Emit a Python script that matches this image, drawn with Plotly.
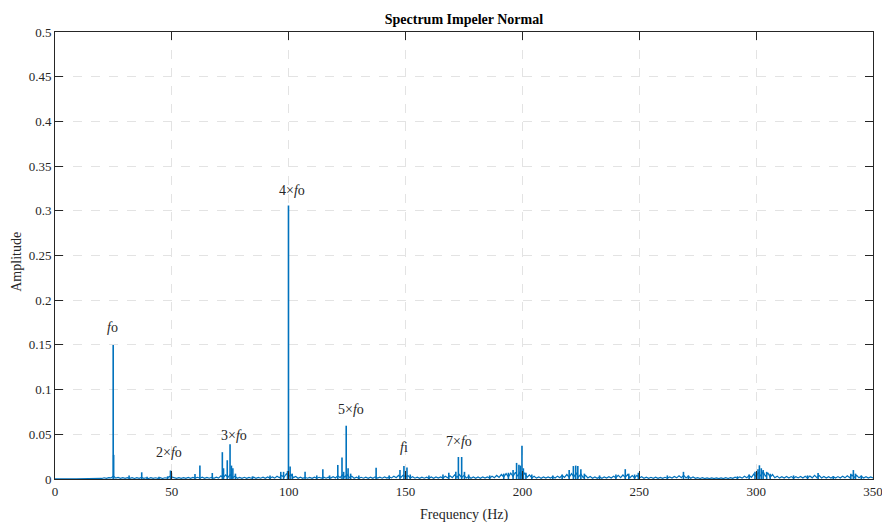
import plotly.graph_objects as go

# Broadband noise floor of the spectrum, one value per Hz from 0 to 350 Hz
floor_hz = list(range(0, 351))
floor_amp = [
    0.0003, 0.0002, 0.0002, 0.0003, 0.0002, 0.0002, 0.0003, 0.0002, 0.0002, 0.0003,
    0.0003, 0.0004, 0.0003, 0.0005, 0.0004, 0.0006, 0.0005, 0.0007, 0.0006, 0.0008,
    0.0006, 0.0014, 0.0007, 0.0016, 0.0012, 0.0032, 0.0010, 0.0018, 0.0008, 0.0016,
    0.0007, 0.0015, 0.0008, 0.0016, 0.0006, 0.0015, 0.0008, 0.0017, 0.0007, 0.0014,
    0.0006, 0.0015, 0.0007, 0.0014, 0.0008, 0.0016, 0.0006, 0.0014, 0.0009, 0.0030,
    0.0020, 0.0016, 0.0007, 0.0015, 0.0008, 0.0016, 0.0007, 0.0017, 0.0008, 0.0018,
    0.0010, 0.0019, 0.0009, 0.0020, 0.0008, 0.0018, 0.0009, 0.0019, 0.0008, 0.0020,
    0.0010, 0.0035, 0.0015, 0.0045, 0.0018, 0.0050, 0.0015, 0.0030, 0.0009, 0.0018,
    0.0008, 0.0019, 0.0007, 0.0018, 0.0009, 0.0020, 0.0008, 0.0018, 0.0009, 0.0021,
    0.0008, 0.0022, 0.0009, 0.0024, 0.0010, 0.0030, 0.0015, 0.0040, 0.0020, 0.0060,
    0.0030, 0.0050, 0.0015, 0.0028, 0.0009, 0.0020, 0.0008, 0.0019, 0.0009, 0.0018,
    0.0008, 0.0020, 0.0009, 0.0019, 0.0010, 0.0021, 0.0009, 0.0020, 0.0010, 0.0026,
    0.0012, 0.0035, 0.0015, 0.0045, 0.0020, 0.0050, 0.0015, 0.0030, 0.0009, 0.0020,
    0.0008, 0.0019, 0.0009, 0.0020, 0.0008, 0.0021, 0.0009, 0.0024, 0.0010, 0.0020,
    0.0009, 0.0022, 0.0010, 0.0024, 0.0012, 0.0030, 0.0015, 0.0040, 0.0018, 0.0045,
    0.0020, 0.0038, 0.0012, 0.0025, 0.0009, 0.0020, 0.0008, 0.0021, 0.0009, 0.0020,
    0.0008, 0.0022, 0.0009, 0.0023, 0.0010, 0.0024, 0.0011, 0.0030, 0.0014, 0.0035,
    0.0015, 0.0045, 0.0018, 0.0050, 0.0016, 0.0040, 0.0012, 0.0028, 0.0009, 0.0022,
    0.0008, 0.0023, 0.0009, 0.0022, 0.0010, 0.0024, 0.0011, 0.0030, 0.0014, 0.0040,
    0.0018, 0.0050, 0.0022, 0.0060, 0.0024, 0.0065, 0.0028, 0.0075, 0.0030, 0.0080,
    0.0030, 0.0065, 0.0020, 0.0045, 0.0012, 0.0030, 0.0010, 0.0024, 0.0009, 0.0022,
    0.0010, 0.0023, 0.0011, 0.0026, 0.0012, 0.0032, 0.0014, 0.0040, 0.0018, 0.0050,
    0.0020, 0.0060, 0.0024, 0.0065, 0.0022, 0.0055, 0.0016, 0.0040, 0.0011, 0.0028,
    0.0009, 0.0022, 0.0008, 0.0023, 0.0009, 0.0022, 0.0010, 0.0026, 0.0012, 0.0030,
    0.0014, 0.0040, 0.0016, 0.0045, 0.0018, 0.0050, 0.0014, 0.0038, 0.0012, 0.0040,
    0.0012, 0.0025, 0.0008, 0.0020, 0.0007, 0.0019, 0.0008, 0.0020, 0.0007, 0.0018,
    0.0008, 0.0019, 0.0009, 0.0022, 0.0010, 0.0028, 0.0013, 0.0035, 0.0014, 0.0040,
    0.0012, 0.0030, 0.0009, 0.0022, 0.0007, 0.0016, 0.0006, 0.0014, 0.0005, 0.0013,
    0.0005, 0.0012, 0.0005, 0.0013, 0.0004, 0.0012, 0.0005, 0.0014, 0.0006, 0.0016,
    0.0007, 0.0020, 0.0009, 0.0024, 0.0010, 0.0030, 0.0013, 0.0040, 0.0018, 0.0055,
    0.0025, 0.0075, 0.0030, 0.0085, 0.0028, 0.0070, 0.0020, 0.0050, 0.0014, 0.0032,
    0.0010, 0.0026, 0.0011, 0.0028, 0.0010, 0.0027, 0.0011, 0.0026, 0.0012, 0.0028,
    0.0011, 0.0030, 0.0012, 0.0034, 0.0013, 0.0040, 0.0014, 0.0038, 0.0011, 0.0028,
    0.0010, 0.0026, 0.0011, 0.0025, 0.0010, 0.0027, 0.0011, 0.0030, 0.0013, 0.0036,
    0.0015, 0.0045, 0.0018, 0.0040, 0.0013, 0.0030, 0.0011, 0.0026, 0.0010, 0.0024,
    0.0011,
]

# Discrete spectral lines (Hz, amplitude)
peak_hz = [
    24.9, 25.1, 31.7, 37.1, 39.4, 44.5, 48.2, 49.4, 49.8, 59.9,
    62.0, 67.3, 71.6, 72.1, 73.7, 74.9, 75.5, 76.1, 77.2, 84.5,
    92.0, 96.6, 97.8, 99.5, 99.9, 100.6, 101.5, 107.0, 112.0, 114.6,
    117.5, 121.0, 122.8, 123.5, 124.6, 125.4, 126.5, 130.0, 137.4, 143.0,
    147.6, 149.3, 150.6, 152.0, 160.0, 166.0, 168.5, 171.5, 172.6, 174.0,
    175.2, 177.0, 186.0, 192.0, 194.0, 196.0, 197.5, 198.5, 199.1, 199.8,
    200.4, 201.5, 204.0, 213.0, 217.0, 220.0, 221.8, 222.8, 223.7, 225.0,
    226.5, 233.0, 240.0, 244.0, 245.5, 248.0, 249.6, 262.0, 268.9, 271.0,
    292.0, 297.0, 299.5, 300.8, 301.4, 302.2, 303.0, 304.5, 306.0, 316.0,
    322.0, 326.5, 333.0, 340.5, 341.6, 342.5, 345.0,
]
peak_amp = [
    0.150, 0.027, 0.004, 0.0075, 0.0025, 0.0025, 0.003, 0.0095, 0.007, 0.0055,
    0.015, 0.0067, 0.030, 0.012, 0.021, 0.039, 0.015, 0.012, 0.006, 0.003,
    0.004, 0.008, 0.008, 0.009, 0.306, 0.014, 0.006, 0.008, 0.004, 0.011,
    0.004, 0.0157, 0.024, 0.008, 0.0596, 0.012, 0.006, 0.004, 0.0127, 0.004,
    0.010, 0.0145, 0.013, 0.005, 0.004, 0.005, 0.007, 0.008, 0.0246, 0.0246,
    0.008, 0.005, 0.004, 0.006, 0.007, 0.010, 0.018, 0.016, 0.015, 0.0373,
    0.012, 0.007, 0.005, 0.004, 0.005, 0.010, 0.0145, 0.015, 0.0145, 0.011,
    0.006, 0.004, 0.005, 0.011, 0.006, 0.005, 0.007, 0.004, 0.008, 0.004,
    0.003, 0.005, 0.008, 0.011, 0.0153, 0.012, 0.010, 0.008, 0.006, 0.004,
    0.004, 0.0067, 0.003, 0.006, 0.010, 0.006, 0.004,
]

# Harmonic labels: text, frequency, amplitude where the label sits
label_text = ["<i>f</i>o", "2×<i>f</i>o", "3×<i>f</i>o", "4×<i>f</i>o",
              "5×<i>f</i>o", "<i>f</i>i", "7×<i>f</i>o"]
label_hz = [24.8, 48.8, 76.6, 101.4, 126.7, 149.3, 172.9]
label_amp = [0.170, 0.030, 0.049, 0.323, 0.078, 0.035, 0.0425]

x_ticks = [0, 50, 100, 150, 200, 250, 300, 350]
y_ticks = [0, 0.05, 0.1, 0.15, 0.2, 0.25, 0.3, 0.35, 0.4, 0.45, 0.5]
y_tick_text = ["0", "0.05", "0.1", "0.15", "0.2", "0.25", "0.3", "0.35", "0.4", "0.45", "0.5"]

LINE = "#0072BD"
SERIF = "Liberation Serif, Times New Roman, serif"
INK = "#262626"

# stems: each spectral line drawn from the floor up to its amplitude
stem_x, stem_y = [], []
for f, a in zip(peak_hz, peak_amp):
    stem_x += [f, f, None]
    stem_y += [0, a, None]

fig = go.Figure()
fig.add_trace(go.Scatter(x=floor_hz, y=floor_amp, mode="lines",
                         line=dict(color=LINE, width=1.2), hoverinfo="skip",
                         showlegend=False))
fig.add_trace(go.Scatter(x=stem_x, y=stem_y, mode="lines",
                         line=dict(color=LINE, width=1.6), showlegend=False))

for t, fx, fy in zip(label_text, label_hz, label_amp):
    fig.add_annotation(x=fx, y=fy, text=t, showarrow=False,
                       font=dict(family=SERIF, size=14, color=INK),
                       xanchor="center", yanchor="middle")

# axis titles
fig.add_annotation(xref="paper", yref="paper", x=0.5, y=-0.08,
                   text="Frequency (Hz)", showarrow=False,
                   font=dict(family=SERIF, size=14, color=INK),
                   xanchor="center", yanchor="middle")
fig.add_annotation(xref="paper", yref="paper", x=-0.047, y=0.485,
                   text="Amplitude", showarrow=False, textangle=-90,
                   font=dict(family=SERIF, size=14, color=INK),
                   xanchor="center", yanchor="middle")

axis_common = dict(
    showline=True, linecolor=INK, linewidth=1, mirror="ticks",
    ticks="inside", ticklen=8, tickcolor=INK, tickwidth=1,
    showgrid=True, gridcolor="#e3e3e3", griddash="dash", gridwidth=1,
    zeroline=False, tickfont=dict(family=SERIF, size=13, color=INK),
    ticklabeloverflow="allow", automargin=False,
)

fig.update_xaxes(range=[0, 350], tickvals=x_ticks, **axis_common)
fig.update_yaxes(range=[0, 0.5], tickvals=y_ticks, ticktext=y_tick_text,
                 **axis_common)

fig.update_layout(
    width=882, height=524,
    margin=dict(l=55, r=9, t=32, b=45, autoexpand=False),
    paper_bgcolor="white", plot_bgcolor="white",
    title=dict(text="<b>Spectrum Impeler Normal</b>", x=0.526, xanchor="center",
               y=1 - 19 / 524, yref="container", yanchor="middle",
               font=dict(family=SERIF, size=14, color="black")),
)

fig.write_html("out.html")
